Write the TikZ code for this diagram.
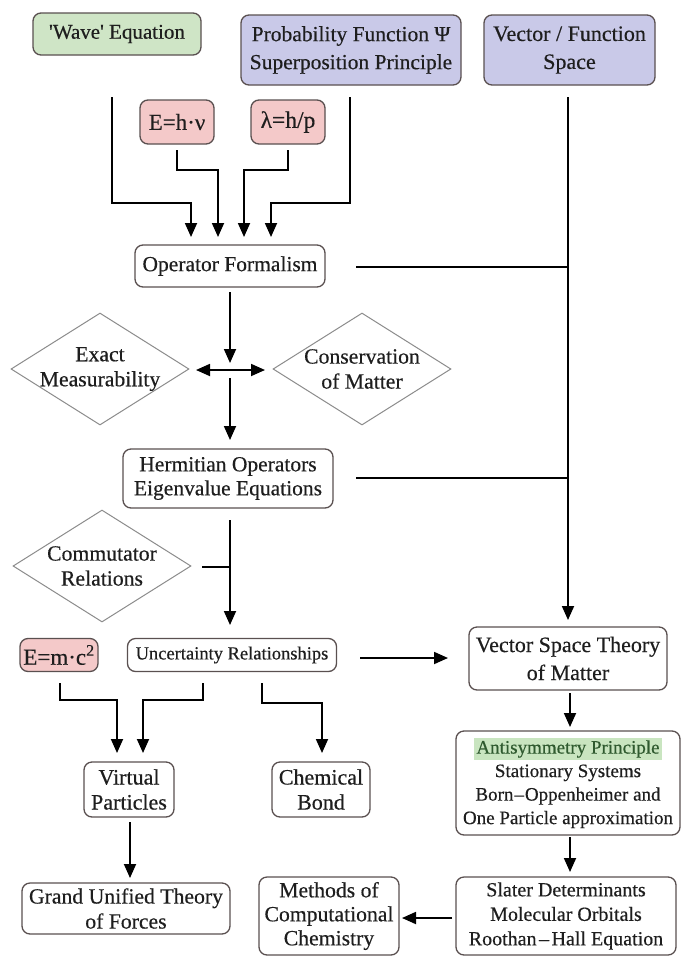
\documentclass[tikz,border=0pt]{standalone}
\usepackage{fontspec}
\setmainfont{Liberation Serif}
\newfontfamily\lserif{Liberation Serif}[FakeBold=0.4]
\usetikzlibrary{shapes.geometric,arrows.meta}
\definecolor{wavegreen}{HTML}{CFE5C6}
\definecolor{lav}{HTML}{C9C9E8}
\definecolor{pinkf}{HTML}{F4C9C9}
\definecolor{bord}{HTML}{5A5050}
\definecolor{txt}{HTML}{1E1E1E}
\definecolor{hl}{HTML}{C9E5C0}
\definecolor{hltxt}{HTML}{2F5A2F}
\definecolor{dgray}{HTML}{8C8C8C}
\newcommand{\fs}[2]{\lserif\fontsize{#1}{#2}\selectfont}
\tikzset{
 box/.style={draw=bord, line width=1.3pt, rounded corners=8pt, align=center, inner sep=0pt, text=txt, fill=white, font=\fs{21.5}{24}},
 dia/.style={diamond, shape aspect=1.59, draw=dgray, line width=1pt, align=center, inner sep=-14pt, minimum width=178pt, minimum height=112pt, text=txt, font=\fs{21.7}{25}},
 conn/.style={line width=1.8pt, black},
 arr/.style={conn, -{Triangle[length=14pt,width=12pt]}},
 darr/.style={conn, {Triangle[length=14pt,width=12pt]}-{Triangle[length=14pt,width=12pt]}},
}
\begin{document}
\begin{tikzpicture}[x=1pt,y=-1pt]
\fill[white] (0,0) rectangle (682,956);
\useasboundingbox (0,0) rectangle (682,956);
% top row
\node[box, fill=wavegreen, minimum width=168pt, minimum height=42pt, font=\fs{21}{26}] (wave) at (117,34) {\char39Wave\char39{} Equation};
\node[box, fill=lav, minimum width=220pt, minimum height=70pt, font=\fs{21.5}{28}] (prob) at (351,50) {Probability Function Ψ\\Superposition Principle};
\node[box, fill=lav, minimum width=171pt, minimum height=70pt, font=\fs{22}{28}] (vfs) at (569.5,50) {Vector / Function\\Space};
\node[box, fill=pinkf, minimum width=74pt, minimum height=44pt, font=\fs{23}{26}] (ehv) at (177,122) {E=h·ν};
\node[box, fill=pinkf, minimum width=74pt, minimum height=44pt, font=\fs{23.5}{26}] (lhp) at (288,122) {λ=h/p};
% middle
\node[box, minimum width=190pt, minimum height=42pt] (op) at (230,266) {Operator Formalism};
\node[dia] (exact) at (100,369) {Exact\\Measurability};
\node[dia] (cons) at (362,369) {Conservation\\of Matter};
\node[box, minimum width=210pt, minimum height=59pt] (herm) at (228,478.5) {Hermitian Operators\\Eigenvalue Equations};
\node[dia] (comm) at (102,566) {Commutator\\Relations};
\node[box, fill=pinkf, minimum width=78pt, minimum height=33pt, font=\fs{23}{26}] (emc) at (59,655) {E=m·c\textsuperscript{2}};
\node[box, minimum width=209pt, minimum height=33pt, font=\fs{18.5}{22}] (unc) at (232,655) {Uncertainty Relationships};
\node[box, minimum width=198pt, minimum height=63pt, font=\fs{22}{28}] (vst) at (568,658.5) {Vector Space Theory\\of Matter};
\node[box, minimum width=224pt, minimum height=104pt, font=\fs{19}{23.5}] (anti) at (568,783) {{\setlength{\fboxsep}{2.5pt}\colorbox{hl}{\color{hltxt}Antisymmetry Principle}}\\Stationary Systems\\Born\hspace{1pt}–\hspace{1pt}Oppenheimer and\\One Particle approximation};
\node[box, minimum width=220pt, minimum height=78pt, font=\fs{20}{24.5}] (slater) at (566,916) {Slater Determinants\\Molecular Orbitals\\Roothan\hspace{2.5pt}–\hspace{2.5pt}Hall Equation};
\node[box, minimum width=140pt, minimum height=78pt, font=\fs{21.7}{24}] (methods) at (329,916) {Methods of\\Computational\\Chemistry};
\node[box, minimum width=208pt, minimum height=51pt, font=\fs{21.7}{25}] (grand) at (126,908.5) {Grand Unified Theory\\of Forces};
\node[box, minimum width=90pt, minimum height=55pt, font=\fs{22}{25}] (virt) at (129,789.5) {Virtual\\Particles};
\node[box, minimum width=98pt, minimum height=55pt, font=\fs{22}{25}] (chem) at (321,789.5) {Chemical\\Bond};
% free-end coordinates
\coordinate (w0) at (112,97);
\coordinate (p0) at (350,97);
\coordinate (v0) at (568,97);
\coordinate (e0) at (177,150);
\coordinate (l0) at (288,150);
% connectors into operator formalism
\draw[arr] (w0) -- (112,203) -- (191,203) -- (191,237);
\draw[arr] (e0) -- (177,170) -- (218,170) -- (218,237);
\draw[arr] (l0) -- (288,170) -- (244,170) -- (244,237);
\draw[arr] (p0) -- (350,203) -- (271,203) -- (271,237);
% vector space trunk
\draw[arr] (v0) -- (568,620);
\draw[conn] (356,267) -- (568,267);
\draw[conn] (356,478) -- (568,478);
% central column
\draw[arr] (230,292) -- (230,363);
\draw[darr] (196,370) -- (265,370);
\draw[arr] (230,378) -- (230,440);
\draw[arr] (230,520) -- (230,625);
\draw[conn] (202,567) -- (230,567);
% lower part
\draw[arr] (360,658) -- (448,658);
\draw[arr] (570,693) -- (570,727);
\draw[arr] (570,837) -- (570,872);
\draw[arr] (452,918) -- (402,918);
\draw[arr] (60,683) -- (60,700) -- (117,700) -- (117,753);
\draw[arr] (203,683) -- (203,700) -- (143,700) -- (143,753);
\draw[arr] (262,683) -- (262,703) -- (322,703) -- (322,753);
\draw[arr] (130,822) -- (130,878);
\end{tikzpicture}
\end{document}
